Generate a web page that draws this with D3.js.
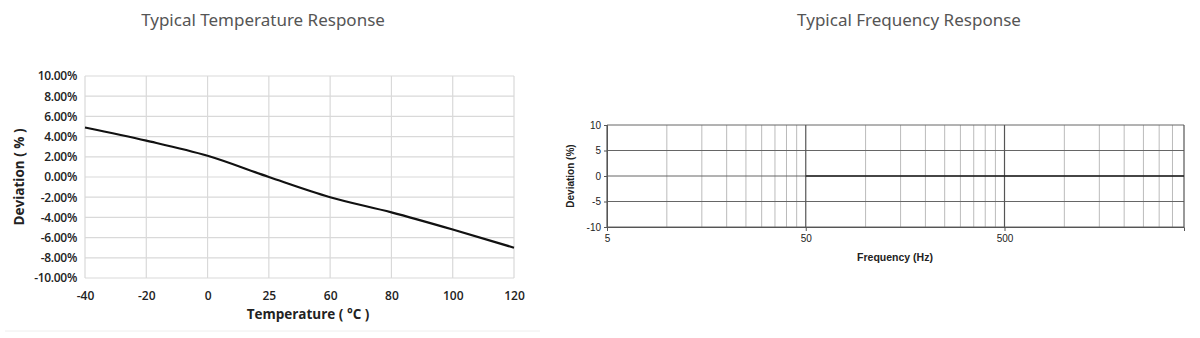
<!DOCTYPE html>
<html>
<head>
<meta charset="utf-8">
<script src="https://cdn.jsdelivr.net/npm/d3@7"></script>
<style>
  body { margin: 0; background: #fff; }
  svg { display: block; }
</style>
</head>
<body>
<div class="container"></div>
<script>
// temperature response data
const tempCategories = ['-40', '-20', '0', '25', '60', '80', '100', '120'];
const tempDeviation = [4.9, 3.6, 2.1, 0.0, -2.0, -3.5, -5.2, -7.0];
const tempTicks = [-10, -8, -6, -4, -2, 0, 2, 4, 6, 8, 10];

// frequency response data
const freqValues = [50, 100, 200, 400, 800, 1500, 2500, 4000];
const freqDeviation = [0, 0, 0, 0, 0, 0, 0, 0];
const freqTickLabels = [5, 50, 500];
const freqYTicks = [-10, -5, 0, 5, 10];

const svg = d3.select('.container')
    .append('svg')
    .attr('width', 1200)
    .attr('height', 338);

// titles
svg.append('text')
    .attr('x', 263).attr('y', 26)
    .attr('text-anchor', 'middle')
    .attr('font-family', 'Noto Sans')
    .attr('font-size', 17)
    .attr('fill', '#555')
    .text('Typical Temperature Response');

svg.append('text')
    .attr('x', 909).attr('y', 26)
    .attr('text-anchor', 'middle')
    .attr('font-family', 'Noto Sans')
    .attr('font-size', 17)
    .attr('fill', '#555')
    .text('Typical Frequency Response');

// ---- left chart ----
let left = {x0: 85, x1: 514, y0: 76, y1: 278};

let tx = d3.scalePoint().domain(tempCategories).range([left.x0, left.x1]);
let ty = d3.scaleLinear().domain([-10, 10]).range([left.y1, left.y0]);

let g1 = svg.append('g');

g1.selectAll('line.hgrid')
    .data(tempTicks)
    .enter()
    .append('line')
    .attr('x1', left.x0).attr('x2', left.x1)
    .attr('y1', d => ty(d)).attr('y2', d => ty(d))
    .attr('stroke', '#d9d9d9')
    .attr('stroke-width', 1.2);

g1.selectAll('line.vgrid')
    .data(tempCategories)
    .enter()
    .append('line')
    .attr('x1', d => tx(d)).attr('x2', d => tx(d))
    .attr('y1', left.y0).attr('y2', left.y1)
    .attr('stroke', '#d9d9d9')
    .attr('stroke-width', 1.2);

let yAxis1 = g1.append('g')
    .attr('transform', `translate(${left.x0 - 5},0)`)
    .call(d3.axisLeft(ty).tickValues(tempTicks).tickSize(0).tickFormat(d => d.toFixed(2) + '%'));
yAxis1.select('.domain').remove();
yAxis1.selectAll('text')
    .attr('font-family', 'Open Sans')
    .attr('font-weight', 600)
    .attr('font-size', 12)
    .attr('letter-spacing', -0.3)
    .attr('fill', '#222');

let xAxis1 = g1.append('g')
    .attr('transform', `translate(0,${left.y1 + 10})`)
    .call(d3.axisBottom(tx).tickSize(0));
xAxis1.select('.domain').remove();
xAxis1.selectAll('text')
    .attr('font-family', 'Open Sans')
    .attr('font-weight', 600)
    .attr('font-size', 12)
    .attr('fill', '#222');

g1.append('path')
    .datum(tempDeviation)
    .attr('fill', 'none')
    .attr('stroke', '#111')
    .attr('stroke-width', 2.2)
    .attr('d', d3.line()
        .x((d, i) => tx(tempCategories[i]))
        .y(d => ty(d))
        .curve(d3.curveMonotoneX));

g1.append('text')
    .attr('transform', `translate(24,${(left.y0 + left.y1) / 2}) rotate(-90)`)
    .attr('text-anchor', 'middle')
    .attr('font-family', 'Open Sans')
    .attr('font-weight', 700)
    .attr('font-size', 13.5)
    .attr('fill', '#222')
    .text('Deviation ( % )');

g1.append('text')
    .attr('x', 308).attr('y', 319)
    .attr('text-anchor', 'middle')
    .attr('font-family', 'Open Sans')
    .attr('font-weight', 700)
    .attr('font-size', 13.5)
    .attr('fill', '#222')
    .text('Temperature ( °C )');

g1.append('line')
    .attr('x1', 5).attr('x2', 540)
    .attr('y1', 331).attr('y2', 331)
    .attr('stroke', '#eee');

// ---- right chart ----
let right = {x0: 607, x1: 1184, y0: 125, y1: 227};

let fx = d3.scaleLog().domain([5, 4000]).range([right.x0, right.x1]);
let fy = d3.scaleLinear().domain([-10, 10]).range([right.y1, right.y0]);

let g2 = svg.append('g');

// minor grid: multiples of 5, 50, 500
let minorTicks = [];
[5, 50, 500].forEach(base => {
    for (let k = 2; k <= 9; k++) {
        let v = base * k;
        if (v < 4000) minorTicks.push(v);
    }
});

g2.selectAll('line.minor')
    .data(minorTicks)
    .enter()
    .append('line')
    .attr('x1', d => fx(d)).attr('x2', d => fx(d))
    .attr('y1', right.y0).attr('y2', right.y1)
    .attr('stroke', '#bbb')
    .attr('stroke-width', 1);

g2.selectAll('line.hgrid')
    .data(freqYTicks)
    .enter()
    .append('line')
    .attr('x1', right.x0).attr('x2', right.x1)
    .attr('y1', d => fy(d)).attr('y2', d => fy(d))
    .attr('stroke', '#666')
    .attr('stroke-width', 1);

g2.selectAll('line.major')
    .data(freqTickLabels.concat([4000]))
    .enter()
    .append('line')
    .attr('x1', d => fx(d)).attr('x2', d => fx(d))
    .attr('y1', right.y0).attr('y2', right.y1)
    .attr('stroke', '#555')
    .attr('stroke-width', 1.2);

let yAxis2 = g2.append('g')
    .attr('transform', `translate(${right.x0},0)`)
    .call(d3.axisLeft(fy).tickValues(freqYTicks).tickSize(3).tickPadding(3).tickFormat(d => String(d)));
yAxis2.select('.domain').attr('stroke', '#555');
yAxis2.selectAll('line').attr('stroke', '#555');
yAxis2.selectAll('text')
    .attr('font-family', 'Liberation Sans')
    .attr('font-size', 10)
    .attr('fill', '#222');

let xAxis2 = g2.append('g')
    .attr('transform', `translate(0,${right.y1})`)
    .call(d3.axisBottom(fx).tickValues(freqTickLabels).tickFormat(d3.format('d')).tickSize(4).tickPadding(4));
xAxis2.select('.domain').attr('stroke', '#555');
xAxis2.selectAll('line').attr('stroke', '#555');
xAxis2.selectAll('text')
    .attr('font-family', 'Liberation Sans')
    .attr('font-size', 10)
    .attr('fill', '#222');

g2.append('path')
    .datum(freqDeviation)
    .attr('fill', 'none')
    .attr('stroke', '#222')
    .attr('stroke-width', 1.3)
    .attr('d', d3.line()
        .x((d, i) => fx(freqValues[i]))
        .y(d => fy(d)));

g2.append('text')
    .attr('transform', `translate(574,${(right.y0 + right.y1) / 2}) rotate(-90)`)
    .attr('text-anchor', 'middle')
    .attr('font-family', 'Liberation Sans')
    .attr('font-weight', 700)
    .attr('font-size', 10)
    .attr('fill', '#222')
    .text('Deviation (%)');

g2.append('text')
    .attr('x', 895).attr('y', 261)
    .attr('text-anchor', 'middle')
    .attr('font-family', 'Liberation Sans')
    .attr('font-weight', 700)
    .attr('font-size', 10.5)
    .attr('fill', '#222')
    .text('Frequency (Hz)');
</script>
</body>
</html>
